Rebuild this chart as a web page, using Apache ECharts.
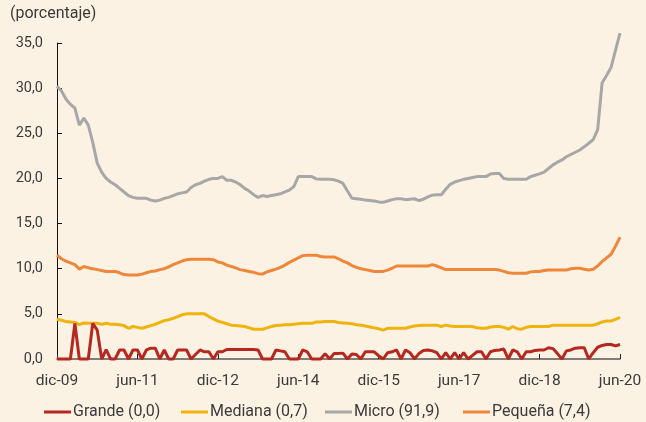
<!DOCTYPE html>
<html>
<head>
<meta charset="utf-8">
<script src="https://cdn.jsdelivr.net/npm/echarts@6/dist/echarts.min.js"></script>
<style>
html,body{margin:0;padding:0;background:#FCF2E4;}
#chart{width:646px;height:422px;}
</style>
</head>
<body>
<div id="chart"></div>
<script>
// Monthly categories dic-09 .. jun-20
var monthNames = ["ene","feb","mar","abr","may","jun","jul","ago","sep","oct","nov","dic"];
var categories = ["dic-09"];
for (var y = 10; y <= 20; y++) {
  for (var m = 0; m < 12; m++) {
    if (y === 20 && m > 5) break;
    categories.push(monthNames[m] + "-" + (y < 10 ? "0" + y : y));
  }
}
var tickLabels = ["dic-09","jun-11","dic-12","jun-14","dic-15","jun-17","dic-18","jun-20"];
var yTicks = [0,5,10,15,20,25,30,35];

var seriesNames = ["Grande (0,0)","Mediana (0,7)","Micro (91,9)","Pequeña (7,4)"];

var grande = [
0,0,0,0,3.95,0,0,0,3.95,3.2,
0,1.05,0,0,1.0,1.0,0,1.0,1.0,0,
1.0,1.2,1.2,0,1.0,0,0,1.0,1.0,1.0,
0,0.5,1.0,0.8,0.8,0,0.8,0.8,1.05,1.05,
1.05,1.05,1.05,1.05,1.05,1.0,0,0,0,1.0,
0.9,0.8,0,0,0,1.0,0.8,0,0,0,
0.6,0,0.6,0.6,0.65,0,0.55,0.5,0,0.8,
0.8,0.8,0.35,0,0.7,0.8,1.0,0,1.0,0.7,
0,0.6,0.95,1.0,0.9,0.7,0,0.7,0,0.7,
0,0.7,0,0.4,0.8,0.8,0,0.8,0.95,1.0,
1.1,0,1.0,0.8,0,0.8,0.8,0.95,1.0,1.0,
1.25,1.15,0.6,0,0.9,1.0,1.2,1.25,1.25,0,
0.7,1.3,1.5,1.6,1.6,1.45,1.6
];

var mediana = [
4.4,4.3,4.15,4.1,4.05,3.8,4.0,3.95,3.95,3.95,
3.85,3.95,3.85,3.85,3.8,3.7,3.4,3.6,3.5,3.4,
3.55,3.7,3.85,4.05,4.25,4.35,4.5,4.7,4.9,5.0,
5.0,5.0,5.0,5.0,4.7,4.45,4.2,4.05,3.9,3.75,
3.7,3.65,3.6,3.45,3.3,3.3,3.3,3.45,3.6,3.7,
3.75,3.8,3.8,3.85,3.9,3.95,3.95,3.95,4.1,4.1,
4.15,4.15,4.15,4.05,4.0,3.95,3.9,3.8,3.75,3.65,
3.55,3.45,3.35,3.2,3.4,3.4,3.4,3.4,3.4,3.55,
3.65,3.7,3.75,3.75,3.75,3.75,3.6,3.75,3.65,3.6,
3.6,3.6,3.6,3.6,3.45,3.4,3.4,3.55,3.6,3.6,
3.5,3.3,3.6,3.35,3.3,3.5,3.6,3.6,3.6,3.6,
3.6,3.75,3.75,3.75,3.75,3.75,3.75,3.75,3.75,3.75,
3.75,3.9,4.1,4.2,4.2,4.4,4.6
];

var micro = [
30.2,29.7,28.8,28.2,27.8,25.9,26.7,25.9,24.0,21.7,
20.7,20.0,19.6,19.3,18.9,18.5,18.1,17.9,17.8,17.8,
17.8,17.6,17.5,17.6,17.8,17.9,18.1,18.3,18.4,18.5,
19.0,19.3,19.45,19.7,19.9,20.0,20.0,20.2,19.8,19.8,
19.6,19.3,18.9,18.6,18.2,17.9,18.1,18.0,18.1,18.2,
18.3,18.5,18.7,19.1,20.2,20.2,20.2,20.2,19.95,19.9,
19.9,19.9,19.85,19.7,19.45,18.6,17.8,17.75,17.7,17.6,
17.55,17.5,17.4,17.35,17.5,17.65,17.75,17.75,17.65,17.7,
17.75,17.55,17.7,17.95,18.15,18.2,18.2,18.8,19.35,19.6,
19.75,19.9,20.0,20.1,20.2,20.2,20.2,20.5,20.55,20.55,
20.0,19.9,19.9,19.9,19.9,19.9,20.2,20.35,20.5,20.7,
21.1,21.5,21.8,22.05,22.4,22.65,22.9,23.15,23.5,23.9,
24.3,25.4,30.6,31.4,32.3,34.2,36.1
];

var pequena = [
11.5,11.1,10.85,10.65,10.45,9.95,10.25,10.1,10.0,9.9,
9.8,9.7,9.7,9.7,9.55,9.35,9.3,9.3,9.3,9.4,
9.55,9.7,9.75,9.9,10.0,10.2,10.45,10.65,10.85,11.0,
11.05,11.05,11.05,11.05,11.05,11.0,10.75,10.65,10.4,10.25,
10.1,9.9,9.8,9.7,9.6,9.45,9.4,9.65,9.8,9.95,
10.15,10.4,10.7,10.95,11.2,11.45,11.5,11.5,11.5,11.35,
11.3,11.3,11.3,11.1,10.85,10.65,10.35,10.15,10.0,9.9,
9.8,9.7,9.7,9.7,9.85,10.05,10.3,10.3,10.3,10.3,
10.3,10.3,10.3,10.3,10.45,10.3,10.1,9.9,9.9,9.9,
9.9,9.9,9.9,9.9,9.9,9.9,9.9,9.9,9.9,9.85,
9.7,9.55,9.5,9.5,9.5,9.5,9.65,9.7,9.7,9.8,
9.85,9.85,9.85,9.85,9.85,10.0,10.05,10.05,9.95,9.85,
9.95,10.3,10.8,11.2,11.6,12.5,13.5
];

var colors = ["#B5271F","#EFB30E","#A7A7A7","#EE8739"];
var allData = [grande, mediana, micro, pequena];
var fontFam = "Roboto, 'Noto Sans', sans-serif";
var txtColor = "#3a3a3a";

var chart = echarts.init(document.getElementById('chart'), null, {renderer:'canvas'});

var series = seriesNames.map(function(n, k){
  return {
    name: n, type: 'line', data: allData[k], symbol: 'none', clip: false,
    lineStyle: {color: colors[k], width: 3},
    itemStyle: {color: colors[k]},
    z: k === 0 ? 5 : 3
  };
});

var legendLefts = [44, 181, 325, 463];
var legends = seriesNames.map(function(n, k){
  return {
    data: [n], left: legendLefts[k], top: 404, padding: 0,
    icon: 'rect', itemWidth: 27, itemHeight: 3, itemGap: 0,
    textStyle: {fontFamily: fontFam, fontSize: 16, color: txtColor, padding: [0,0,0,-3]},
    selectedMode: false
  };
});

chart.setOption({
  backgroundColor: '#FCF2E4',
  animation: false,
  title: {text: '(porcentaje)', left: 10, top: 6, padding: 0,
    textStyle: {fontFamily: fontFam, fontSize: 16, fontWeight: 'normal', color: txtColor}},
  grid: {left: 57, right: 26, top: 43, bottom: 63, containLabel: false},
  legend: legends,
  xAxis: {
    type: 'category', data: categories, boundaryGap: false,
    axisLine: {lineStyle: {color: '#555555', width: 1.5}},
    axisTick: {inside: true, length: 5, interval: 17, lineStyle: {color: '#222'}},
    axisLabel: {interval: 17, margin: 14, fontFamily: fontFam, fontSize: 15.5, color: txtColor,
      formatter: function(v){ return tickLabels.indexOf(v) >= 0 ? v : ''; }},
    splitLine: {show: false}
  },
  yAxis: {
    type: 'value', min: yTicks[0], max: yTicks[yTicks.length-1], interval: 5,
    axisLine: {show: true, lineStyle: {color: '#111', width: 1}},
    axisTick: {show: true, inside: true, length: 5, lineStyle: {color: '#111'}},
    axisLabel: {margin: 14, fontFamily: fontFam, fontSize: 14.5, color: txtColor,
      formatter: function(v){ return v.toFixed(1).replace('.', ','); }},
    splitLine: {show: false}
  },
  series: series
});
</script>
</body>
</html>
